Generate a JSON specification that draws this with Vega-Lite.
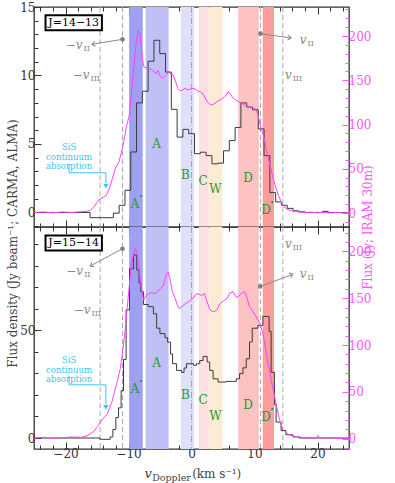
{
 "$schema": "https://vega.github.io/schema/vega-lite/v6.json",
 "padding": {"left": 6, "top": 0, "right": 2, "bottom": 0},
 "bounds": "flush",
 "spacing": 0,
 "config": {
  "font": "DejaVu Serif",
  "view": {"stroke": "#333", "strokeWidth": 1.3},
  "axis": {"grid": false, "domain": false, "labelFont": "DejaVu Serif", "labelFontSize": 12, "labelColor": "#333", "tickColor": "#333", "titleFont": "DejaVu Serif", "titleFontSize": 12, "titleFontWeight": "normal", "titleColor": "#444", "labelPadding": 6, "labelFlush": false, "labelOverlap": false},
  "text": {"font": "DejaVu Serif"}
 },
 "datasets": {
  "bands": [{"b":"A*","v0":-9.9,"v1":-7.74},{"b":"A","v0":-7.27,"v1":-3.63},{"b":"B","v0":-1.7,"v1":0.4},{"b":"C","v0":1.15,"v1":2.75},{"b":"W","v0":2.8,"v1":4.9},{"b":"D","v0":7.4,"v1":10.7},{"b":"D*","v0":11.3,"v1":13.1}],
  "vlines": [{"v":-14.5,"k":"dash"},{"v":-10.95,"k":"dash"},{"v":10.95,"k":"dash"},{"v":14.5,"k":"dash"},{"v":0,"k":"dd"}],
  "k1": [{"v":-25,"f":0},{"v":-16.1,"f":-0.38},{"v":-12.4,"f":-0.05},{"v":-11.48,"f":0.52},{"v":-10.56,"f":1.62},{"v":-9.64,"f":4.42},{"v":-8.72,"f":8.0},{"v":-7.8,"f":8.85},{"v":-6.88,"f":11.04},{"v":-5.96,"f":12.57},{"v":-5.04,"f":11.6},{"v":-4.12,"f":10.25},{"v":-3.2,"f":7.53},{"v":-2.28,"f":5.5},{"v":-1.36,"f":6.07},{"v":-0.44,"f":5.75},{"v":0.48,"f":4.29},{"v":1.4,"f":4.4},{"v":2.32,"f":4.15},{"v":3.24,"f":3.55},{"v":4.16,"f":3.6},{"v":5.08,"f":4.5},{"v":6.0,"f":5.25},{"v":6.92,"f":6.2},{"v":7.84,"f":8.0},{"v":8.76,"f":7.7},{"v":9.68,"f":7.5},{"v":10.6,"f":6.1},{"v":11.52,"f":4.15},{"v":12.44,"f":1.45},{"v":13.36,"f":0.77},{"v":14.28,"f":0.53},{"v":15.2,"f":0.3},{"v":16.12,"f":0.12},{"v":17.04,"f":0.05},{"v":18.0,"f":0.0},{"v":20.8,"f":0.08},{"v":21.7,"f":0.0},{"v":25,"f":0}],
  "k2": [{"v":-25,"f":0},{"v":-14.53,"f":-0.6},{"v":-12.91,"f":0.5},{"v":-12.48,"f":4.0},{"v":-12.01,"f":9.5},{"v":-11.58,"f":14},{"v":-11.17,"f":22},{"v":-10.79,"f":36.5},{"v":-10.38,"f":59.5},{"v":-9.84,"f":78.6},{"v":-9.21,"f":85},{"v":-8.69,"f":78},{"v":-8.33,"f":72},{"v":-8.06,"f":68},{"v":-7.63,"f":62},{"v":-6.85,"f":61},{"v":-6.05,"f":57.7},{"v":-5.53,"f":51},{"v":-5.01,"f":48.5},{"v":-4.22,"f":46.6},{"v":-3.79,"f":44.5},{"v":-3.32,"f":39},{"v":-3.0,"f":34.5},{"v":-2.37,"f":31.4},{"v":-1.58,"f":30.5},{"v":-1.18,"f":32.5},{"v":-0.79,"f":34.5},{"v":0.32,"f":33.8},{"v":0.79,"f":34.5},{"v":1.31,"f":36},{"v":1.85,"f":37.9},{"v":2.48,"f":35.3},{"v":2.89,"f":31.4},{"v":3.43,"f":27.5},{"v":4.22,"f":26},{"v":5.5,"f":26.3},{"v":7.11,"f":27.5},{"v":7.63,"f":29.9},{"v":8.17,"f":32.6},{"v":8.69,"f":36.8},{"v":9.21,"f":44.6},{"v":9.64,"f":51},{"v":10.54,"f":52.3},{"v":11.33,"f":56.5},{"v":12.32,"f":49.5},{"v":12.64,"f":30.5},{"v":13.16,"f":15.5},{"v":13.43,"f":7.4},{"v":14.22,"f":3.5},{"v":14.99,"f":1.5},{"v":16.11,"f":0.5},{"v":17.06,"f":0},{"v":25,"f":0}],
  "m1": [{"v":-25,"f":0.5},{"v":-23.5,"f":1.2},{"v":-22,"f":0.3},{"v":-20.5,"f":1.2},{"v":-19,"f":0.6},{"v":-17.5,"f":1.5},{"v":-16.6,"f":2},{"v":-16.1,"f":3},{"v":-15.5,"f":7},{"v":-15.0,"f":12},{"v":-14.5,"f":16},{"v":-14.0,"f":18},{"v":-13.5,"f":20},{"v":-13.1,"f":27},{"v":-12.6,"f":38},{"v":-12.1,"f":50},{"v":-11.5,"f":58},{"v":-10.9,"f":75},{"v":-10.4,"f":95},{"v":-9.9,"f":110},{"v":-9.6,"f":130},{"v":-9.3,"f":155},{"v":-9.05,"f":172},{"v":-8.75,"f":195},{"v":-8.45,"f":206},{"v":-8.2,"f":203},{"v":-8.0,"f":189},{"v":-7.8,"f":174},{"v":-7.55,"f":165},{"v":-7.2,"f":164},{"v":-6.8,"f":162},{"v":-6.4,"f":163},{"v":-6.0,"f":160},{"v":-5.6,"f":158},{"v":-5.3,"f":161},{"v":-5.0,"f":155},{"v":-4.6,"f":152},{"v":-4.3,"f":154},{"v":-3.9,"f":157},{"v":-3.6,"f":160},{"v":-3.3,"f":157},{"v":-2.9,"f":156},{"v":-2.5,"f":148},{"v":-2.2,"f":141},{"v":-1.8,"f":138},{"v":-1.4,"f":139},{"v":-1.0,"f":141},{"v":-0.6,"f":139},{"v":-0.2,"f":140},{"v":0.2,"f":141},{"v":0.6,"f":140},{"v":1.0,"f":138},{"v":1.4,"f":137},{"v":1.9,"f":134},{"v":2.3,"f":128},{"v":2.7,"f":124},{"v":3.1,"f":122},{"v":3.5,"f":123},{"v":3.9,"f":125},{"v":4.3,"f":127},{"v":4.8,"f":129},{"v":5.2,"f":131},{"v":5.5,"f":133},{"v":5.8,"f":137},{"v":6.2,"f":134},{"v":6.6,"f":130},{"v":7.0,"f":128},{"v":7.4,"f":126},{"v":7.9,"f":124},{"v":8.4,"f":122},{"v":8.9,"f":121},{"v":9.3,"f":120},{"v":9.7,"f":119},{"v":10.1,"f":118},{"v":10.5,"f":112},{"v":11.0,"f":97},{"v":11.4,"f":88},{"v":11.85,"f":73},{"v":12.25,"f":60},{"v":12.64,"f":49},{"v":13.0,"f":38},{"v":13.43,"f":28},{"v":13.8,"f":20},{"v":14.2,"f":13},{"v":14.7,"f":7},{"v":15.3,"f":3.8},{"v":16.0,"f":2.2},{"v":17.0,"f":1.2},{"v":18.0,"f":0.6},{"v":19.0,"f":0.9},{"v":20.0,"f":0.3},{"v":21.0,"f":0.8},{"v":22.0,"f":0.1},{"v":23.0,"f":0.6},{"v":24.0,"f":0.2},{"v":25,"f":0.3}],
  "m2": [{"v":-25,"f":0.5},{"v":-23.5,"f":1.5},{"v":-22,"f":0.3},{"v":-20.5,"f":1.2},{"v":-19,"f":1.8},{"v":-17.5,"f":1.5},{"v":-16.6,"f":3},{"v":-15.5,"f":7.8},{"v":-14.9,"f":13},{"v":-14.2,"f":20},{"v":-13.4,"f":26},{"v":-12.6,"f":40},{"v":-11.9,"f":58},{"v":-11.3,"f":75},{"v":-10.7,"f":105},{"v":-10.2,"f":140},{"v":-9.6,"f":183},{"v":-9.2,"f":197},{"v":-8.9,"f":203},{"v":-8.6,"f":196},{"v":-8.2,"f":175},{"v":-7.9,"f":158},{"v":-7.6,"f":148},{"v":-7.1,"f":154},{"v":-6.3,"f":156},{"v":-5.8,"f":155},{"v":-5.3,"f":158},{"v":-4.5,"f":163},{"v":-4.2,"f":170},{"v":-3.95,"f":176},{"v":-3.7,"f":178},{"v":-3.4,"f":170},{"v":-3.1,"f":158},{"v":-2.6,"f":150},{"v":-2.2,"f":142},{"v":-1.9,"f":139},{"v":-1.2,"f":143},{"v":-0.5,"f":146},{"v":0,"f":149},{"v":0.4,"f":151},{"v":0.79,"f":155},{"v":1.2,"f":154},{"v":1.58,"f":153},{"v":2.05,"f":155},{"v":2.37,"f":148},{"v":2.89,"f":138},{"v":3.3,"f":136},{"v":3.68,"f":136},{"v":4.1,"f":138},{"v":4.47,"f":144},{"v":5.26,"f":148},{"v":5.7,"f":150},{"v":6.05,"f":155},{"v":6.59,"f":157},{"v":7.11,"f":151},{"v":7.5,"f":152},{"v":7.9,"f":155},{"v":8.42,"f":157},{"v":8.69,"f":153},{"v":9.21,"f":141},{"v":9.74,"f":136},{"v":10.27,"f":130},{"v":10.79,"f":124},{"v":11.33,"f":113},{"v":11.85,"f":92},{"v":12.37,"f":73},{"v":12.91,"f":54},{"v":13.43,"f":37},{"v":13.95,"f":21},{"v":14.5,"f":10},{"v":15.28,"f":5},{"v":16.0,"f":3},{"v":16.86,"f":2},{"v":18.0,"f":1},{"v":19.0,"f":0.6},{"v":19.75,"f":0.5},{"v":20.06,"f":3.5},{"v":20.38,"f":0.5},{"v":21.0,"f":1},{"v":22.1,"f":0.8},{"v":23.5,"f":0.2},{"v":25,"f":0.3}],
  "greens": [{"p":"t","t":"A","v":-5.53,"y":5.02,"star":false},{"p":"t","t":"B","v":-0.95,"y":2.74,"star":false},{"p":"t","t":"A","v":-9.0,"y":0.64,"star":true},{"p":"t","t":"C","v":1.85,"y":2.3,"star":false},{"p":"t","t":"W","v":3.79,"y":1.72,"star":false},{"p":"t","t":"D","v":8.96,"y":2.54,"star":false},{"p":"t","t":"D","v":11.85,"y":0.18,"star":true},
             {"p":"b","t":"A","v":-5.53,"y":35,"star":false},{"p":"b","t":"A","v":-9.0,"y":22.9,"star":true},{"p":"b","t":"B","v":-0.95,"y":20.1,"star":false},{"p":"b","t":"C","v":1.85,"y":17.5,"star":false},{"p":"b","t":"W","v":3.79,"y":10.2,"star":false},{"p":"b","t":"D","v":8.96,"y":15.2,"star":false},{"p":"b","t":"D","v":11.85,"y":9.75,"star":true}],
  "vlabels": [{"p":"t","m":"−v","s":"II","v":-17.3,"y":12.26},{"p":"t","m":"−v","s":"III","v":-16.19,"y":10.07},{"p":"t","m":"v","s":"II","v":18.25,"y":12.6},{"p":"t","m":"v","s":"III","v":15.9,"y":10.04},
              {"p":"b","m":"−v","s":"II","v":-17.2,"y":77.4},{"p":"b","m":"−v","s":"III","v":-16.03,"y":59.3},{"p":"b","m":"v","s":"II","v":18.25,"y":76.3},{"p":"b","m":"v","s":"III","v":15.9,"y":90.2}],
  "arrows": [{"p":"t","s":"L","v0":-10.95,"y0":12.64,"v1":-15.8,"y1":12.28},{"p":"t","s":"R","v0":10.95,"y0":13.05,"v1":15.8,"y1":12.74},
             {"p":"b","s":"L","v0":-10.95,"y0":87.9,"v1":-16.07,"y1":79.85},{"p":"b","s":"R","v0":10.9,"y0":70.4,"v1":16.07,"y1":76.0}],
  "sis": [{"p":"t","v":-19.43,"y":4.78},{"p":"b","v":-19.43,"y":36.1}],
  "bracket": [{"p":"t","o":1,"v":-19.43,"y":3.56},{"p":"t","o":2,"v":-19.43,"y":2.9},{"p":"t","o":3,"v":-13.59,"y":2.9},{"p":"t","o":4,"v":-13.59,"y":2.15},
              {"p":"b","o":1,"v":-19.43,"y":29.1},{"p":"b","o":2,"v":-19.43,"y":24.7},{"p":"b","o":3,"v":-13.59,"y":24.7},{"p":"b","o":4,"v":-13.59,"y":15.6}],
  "heads": [{"p":"t","v":-13.59,"y":1.93},{"p":"b","v":-13.59,"y":14.2}],
  "jbox": [{"p":"t","t":"J=14−13","v0":-23.17,"v1":-14.22,"y0":14.39,"y1":13.3,"vc":-18.7,"yc":13.85},{"p":"b","t":"J=15−14","v0":-23.17,"v1":-14.22,"y0":94.1,"y1":87.1,"vc":-18.7,"yc":90.6}],
  "xtitle": [{"r":"v","t":"v","v":-6.87,"y":-16.6},{"r":"sub","t":"Doppler","v":-6.24,"y":-18.4},{"r":"unit","t":"(km s⁻¹)","v":0.1,"y":-16.6}]
 },
 "vconcat": [
  {
   "width": 315, "height": 220,
   "layer": [
    {"data": {"name": "bands"}, "mark": {"type": "rect"},
     "encoding": {
      "x": {"field": "v0", "type": "quantitative", "scale": {"domain": [-25, 25], "nice": false, "zero": false}, "axis": null},
      "x2": {"field": "v1"},
      "color": {"field": "b", "type": "nominal", "legend": null, "scale": {"domain": ["A*","A","B","C","W","D","D*"], "range": ["#a0a0f3","#c0c0f6","#e0e0fa","#fde0e0","#fdebd3","#fdc3c3","#fd9d9d"]}}
     }},
    {"data": {"name": "vlines"}, "transform": [{"filter": "datum.k == 'dash'"}], "mark": {"type": "rule", "strokeDash": [5, 3], "color": "#aaaaaa", "strokeWidth": 1},
     "encoding": {"x": {"field": "v", "type": "quantitative", "axis": null}}},
    {"data": {"name": "vlines"}, "transform": [{"filter": "datum.k == 'dd'"}], "mark": {"type": "rule", "strokeDash": [6, 2, 1, 2], "color": "#a0a0c8", "strokeWidth": 1},
     "encoding": {"x": {"field": "v", "type": "quantitative", "axis": null}}},
    {"data": {"name": "k1"}, "mark": {"type": "line", "interpolate": "step-after", "color": "#3a3a3a", "strokeWidth": 1},
     "encoding": {"x": {"field": "v", "type": "quantitative",
            "axis": {"orient": "bottom", "values": [-24,-22,-20,-18,-16,-14,-12,-10,-8,-6,-4,-2,0,2,4,6,8,10,12,14,16,18,20,22,24], "labels": false, "title": null, "tickSize": {"condition": {"test": "datum.value % 10 === 0", "value": -7}, "value": -4}}},
      "y": {"field": "f", "type": "quantitative", "scale": {"domain": [-1.06, 15], "nice": false, "zero": false},
            "axis": {"orient": "left", "values": [-1,0,1,2,3,4,5,6,7,8,9,10,11,12,13,14,15], "labelExpr": "datum.value % 5 === 0 ? datum.label : ''", "tickSize": {"condition": {"test": "datum.value % 5 === 0", "value": -7}, "value": -4}, "title": "Flux density (Jy beam⁻¹; CARMA, ALMA)", "titleY": 236, "titlePadding": 0}}}},
    {"data": {"name": "jbox"}, "transform": [{"filter": "datum.p == 't'"}], "mark": {"type": "rect", "fill": "white", "stroke": "black", "strokeWidth": 2},
     "encoding": {"x": {"field": "v0", "type": "quantitative", "axis": null}, "x2": {"field": "v1"}, "y": {"field": "y0", "type": "quantitative", "scale": {"domain": [-1.06, 15], "nice": false, "zero": false}, "axis": null}, "y2": {"field": "y1"}}},
    {"data": {"name": "jbox"}, "transform": [{"filter": "datum.p == 't'"}], "mark": {"type": "text", "fontSize": 11, "color": "black"},
     "encoding": {"x": {"field": "vc", "type": "quantitative", "axis": null}, "y": {"field": "yc", "type": "quantitative", "scale": {"domain": [-1.06, 15], "nice": false, "zero": false}, "axis": null}, "text": {"field": "t"}}},
    {"data": {"name": "greens"}, "transform": [{"filter": "datum.p == 't'"}], "mark": {"type": "text", "fontSize": 12, "color": "#2a9a2a"},
     "encoding": {"x": {"field": "v", "type": "quantitative", "axis": null}, "y": {"field": "y", "type": "quantitative", "scale": {"domain": [-1.06, 15], "nice": false, "zero": false}, "axis": null}, "text": {"field": "t"}}},
    {"data": {"name": "greens"}, "transform": [{"filter": "datum.p == 't' && datum.star"}], "mark": {"type": "text", "fontSize": 8, "color": "#2a9a2a", "text": "•", "dx": 6, "dy": -7},
     "encoding": {"x": {"field": "v", "type": "quantitative", "axis": null}, "y": {"field": "y", "type": "quantitative", "scale": {"domain": [-1.06, 15], "nice": false, "zero": false}, "axis": null}}},
    {"data": {"name": "vlabels"}, "transform": [{"filter": "datum.p == 't'"}], "mark": {"type": "text", "fontSize": 12, "fontStyle": "italic", "color": "#8a8a8a", "align": "right"},
     "encoding": {"x": {"field": "v", "type": "quantitative", "axis": null}, "y": {"field": "y", "type": "quantitative", "scale": {"domain": [-1.06, 15], "nice": false, "zero": false}, "axis": null}, "text": {"field": "m"}}},
    {"data": {"name": "vlabels"}, "transform": [{"filter": "datum.p == 't'"}], "mark": {"type": "text", "fontSize": 8, "color": "#8a8a8a", "align": "left", "dx": 1, "dy": 4},
     "encoding": {"x": {"field": "v", "type": "quantitative", "axis": null}, "y": {"field": "y", "type": "quantitative", "scale": {"domain": [-1.06, 15], "nice": false, "zero": false}, "axis": null}, "text": {"field": "s"}}},
    {"data": {"name": "arrows"}, "transform": [{"filter": "datum.p == 't'"}], "mark": {"type": "rule", "color": "#8a8a8a", "strokeWidth": 1},
     "encoding": {"x": {"field": "v0", "type": "quantitative", "axis": null}, "x2": {"field": "v1"}, "y": {"field": "y0", "type": "quantitative", "scale": {"domain": [-1.06, 15], "nice": false, "zero": false}, "axis": null}, "y2": {"field": "y1"}}},
    {"data": {"name": "arrows"}, "transform": [{"filter": "datum.p == 't'"}], "mark": {"type": "point", "filled": true, "size": 22, "color": "#808080", "opacity": 1},
     "encoding": {"x": {"field": "v0", "type": "quantitative", "axis": null}, "y": {"field": "y0", "type": "quantitative", "scale": {"domain": [-1.06, 15], "nice": false, "zero": false}, "axis": null}}},
    {"data": {"name": "arrows"}, "transform": [{"filter": "datum.p == 't' && datum.s == 'L'"}], "mark": {"type": "point", "shape": "M-1,-0.8L0,0L-1,0.8", "filled": false, "size": 40, "color": "#808080", "strokeWidth": 1, "angle": 171, "opacity": 1},
     "encoding": {"x": {"field": "v1", "type": "quantitative", "axis": null}, "y": {"field": "y1", "type": "quantitative", "scale": {"domain": [-1.06, 15], "nice": false, "zero": false}, "axis": null}}},
    {"data": {"name": "arrows"}, "transform": [{"filter": "datum.p == 't' && datum.s == 'R'"}], "mark": {"type": "point", "shape": "M-1,-0.8L0,0L-1,0.8", "filled": false, "size": 40, "color": "#808080", "strokeWidth": 1, "angle": 8, "opacity": 1},
     "encoding": {"x": {"field": "v1", "type": "quantitative", "axis": null}, "y": {"field": "y1", "type": "quantitative", "scale": {"domain": [-1.06, 15], "nice": false, "zero": false}, "axis": null}}},
    {"data": {"name": "sis"}, "transform": [{"filter": "datum.p == 't'"}], "mark": {"type": "text", "text": "SiS\ncontinuum\nabsorption", "lineBreak": "\n", "lineHeight": 9.5, "fontSize": 8.5, "color": "#3cc4f2"},
     "encoding": {"x": {"field": "v", "type": "quantitative", "axis": null}, "y": {"field": "y", "type": "quantitative", "scale": {"domain": [-1.06, 15], "nice": false, "zero": false}, "axis": null}}},
    {"data": {"name": "bracket"}, "transform": [{"filter": "datum.p == 't'"}], "mark": {"type": "line", "color": "#3cc4f2", "strokeWidth": 1},
     "encoding": {"x": {"field": "v", "type": "quantitative", "axis": null}, "y": {"field": "y", "type": "quantitative", "scale": {"domain": [-1.06, 15], "nice": false, "zero": false}, "axis": null}, "order": {"field": "o"}}},
    {"data": {"name": "heads"}, "transform": [{"filter": "datum.p == 't'"}], "mark": {"type": "point", "shape": "triangle-down", "filled": true, "size": 30, "color": "#3cc4f2", "opacity": 1},
     "encoding": {"x": {"field": "v", "type": "quantitative", "axis": null}, "y": {"field": "y", "type": "quantitative", "scale": {"domain": [-1.06, 15], "nice": false, "zero": false}, "axis": null}}},
    {"data": {"name": "m1"}, "mark": {"type": "line", "color": "#ff40ff", "strokeWidth": 1},
     "encoding": {"x": {"field": "v", "type": "quantitative",
       "axis": {"orient": "top", "values": [-24,-22,-20,-18,-16,-14,-12,-10,-8,-6,-4,-2,0,2,4,6,8,10,12,14,16,18,20,22,24], "labels": false, "title": null, "tickSize": {"condition": {"test": "datum.value % 10 === 0", "value": -7}, "value": -4}}},
      "y": {"field": "f", "type": "quantitative", "scale": {"domain": [-15.8, 232.8], "nice": false, "zero": false},
            "axis": {"orient": "right", "values": [-10,0,10,20,30,40,50,60,70,80,90,100,110,120,130,140,150,160,170,180,190,200,210,220,230], "labelExpr": "datum.value % 50 === 0 && datum.value >= 0 ? datum.label : ''", "tickSize": {"condition": {"test": "datum.value % 50 === 0", "value": -7}, "value": -4}, "tickColor": "#ff55ff", "labelColor": "#ff55ff", "title": "Flux (Jy; IRAM 30m)", "titleColor": "#ff55ff", "titleAngle": 270, "titleY": 220, "titlePadding": 4}}}}
   ],
   "resolve": {"scale": {"y": "independent"}, "axis": {"x": "independent"}}
  },
  {
   "width": 315, "height": 222,
   "layer": [
    {"data": {"name": "bands"}, "mark": {"type": "rect"},
     "encoding": {
      "x": {"field": "v0", "type": "quantitative", "scale": {"domain": [-25, 25], "nice": false, "zero": false}, "axis": null},
      "x2": {"field": "v1"},
      "color": {"field": "b", "type": "nominal", "legend": null, "scale": {"domain": ["A*","A","B","C","W","D","D*"], "range": ["#a0a0f3","#c0c0f6","#e0e0fa","#fde0e0","#fdebd3","#fdc3c3","#fd9d9d"]}}
     }},
    {"data": {"name": "vlines"}, "transform": [{"filter": "datum.k == 'dash'"}], "mark": {"type": "rule", "strokeDash": [5, 3], "color": "#aaaaaa", "strokeWidth": 1},
     "encoding": {"x": {"field": "v", "type": "quantitative", "axis": null}}},
    {"data": {"name": "vlines"}, "transform": [{"filter": "datum.k == 'dd'"}], "mark": {"type": "rule", "strokeDash": [6, 2, 1, 2], "color": "#a0a0c8", "strokeWidth": 1},
     "encoding": {"x": {"field": "v", "type": "quantitative", "axis": null}}},
    {"data": {"name": "k2"}, "mark": {"type": "line", "interpolate": "step-after", "color": "#3a3a3a", "strokeWidth": 1},
     "encoding": {"x": {"field": "v", "type": "quantitative",
            "axis": {"orient": "bottom", "values": [-24,-22,-20,-18,-16,-14,-12,-10,-8,-6,-4,-2,0,2,4,6,8,10,12,14,16,18,20,22,24], "labelExpr": "datum.value % 10 === 0 ? datum.label : ''", "title": null, "tickSize": {"condition": {"test": "datum.value % 10 === 0", "value": -7}, "value": -4}}},
      "y": {"field": "f", "type": "quantitative", "scale": {"domain": [-5.1, 98], "nice": false, "zero": false},
            "axis": {"orient": "left", "values": [0,10,20,30,40,50,60,70,80,90], "labelExpr": "datum.value % 50 === 0 ? datum.label : ''", "tickSize": {"condition": {"test": "datum.value % 50 === 0", "value": -7}, "value": -4}, "title": null}}}},
    {"data": {"name": "jbox"}, "transform": [{"filter": "datum.p == 'b'"}], "mark": {"type": "rect", "fill": "white", "stroke": "black", "strokeWidth": 2},
     "encoding": {"x": {"field": "v0", "type": "quantitative", "axis": null}, "x2": {"field": "v1"}, "y": {"field": "y0", "type": "quantitative", "scale": {"domain": [-5.1, 98], "nice": false, "zero": false}, "axis": null}, "y2": {"field": "y1"}}},
    {"data": {"name": "jbox"}, "transform": [{"filter": "datum.p == 'b'"}], "mark": {"type": "text", "fontSize": 11, "color": "black"},
     "encoding": {"x": {"field": "vc", "type": "quantitative", "axis": null}, "y": {"field": "yc", "type": "quantitative", "scale": {"domain": [-5.1, 98], "nice": false, "zero": false}, "axis": null}, "text": {"field": "t"}}},
    {"data": {"name": "greens"}, "transform": [{"filter": "datum.p == 'b'"}], "mark": {"type": "text", "fontSize": 12, "color": "#2a9a2a"},
     "encoding": {"x": {"field": "v", "type": "quantitative", "axis": null}, "y": {"field": "y", "type": "quantitative", "scale": {"domain": [-5.1, 98], "nice": false, "zero": false}, "axis": null}, "text": {"field": "t"}}},
    {"data": {"name": "greens"}, "transform": [{"filter": "datum.p == 'b' && datum.star"}], "mark": {"type": "text", "fontSize": 8, "color": "#2a9a2a", "text": "•", "dx": 6, "dy": -7},
     "encoding": {"x": {"field": "v", "type": "quantitative", "axis": null}, "y": {"field": "y", "type": "quantitative", "scale": {"domain": [-5.1, 98], "nice": false, "zero": false}, "axis": null}}},
    {"data": {"name": "vlabels"}, "transform": [{"filter": "datum.p == 'b'"}], "mark": {"type": "text", "fontSize": 12, "fontStyle": "italic", "color": "#8a8a8a", "align": "right"},
     "encoding": {"x": {"field": "v", "type": "quantitative", "axis": null}, "y": {"field": "y", "type": "quantitative", "scale": {"domain": [-5.1, 98], "nice": false, "zero": false}, "axis": null}, "text": {"field": "m"}}},
    {"data": {"name": "vlabels"}, "transform": [{"filter": "datum.p == 'b'"}], "mark": {"type": "text", "fontSize": 8, "color": "#8a8a8a", "align": "left", "dx": 1, "dy": 4},
     "encoding": {"x": {"field": "v", "type": "quantitative", "axis": null}, "y": {"field": "y", "type": "quantitative", "scale": {"domain": [-5.1, 98], "nice": false, "zero": false}, "axis": null}, "text": {"field": "s"}}},
    {"data": {"name": "arrows"}, "transform": [{"filter": "datum.p == 'b'"}], "mark": {"type": "rule", "color": "#8a8a8a", "strokeWidth": 1},
     "encoding": {"x": {"field": "v0", "type": "quantitative", "axis": null}, "x2": {"field": "v1"}, "y": {"field": "y0", "type": "quantitative", "scale": {"domain": [-5.1, 98], "nice": false, "zero": false}, "axis": null}, "y2": {"field": "y1"}}},
    {"data": {"name": "arrows"}, "transform": [{"filter": "datum.p == 'b'"}], "mark": {"type": "point", "filled": true, "size": 22, "color": "#808080", "opacity": 1},
     "encoding": {"x": {"field": "v0", "type": "quantitative", "axis": null}, "y": {"field": "y0", "type": "quantitative", "scale": {"domain": [-5.1, 98], "nice": false, "zero": false}, "axis": null}}},
    {"data": {"name": "arrows"}, "transform": [{"filter": "datum.p == 'b' && datum.s == 'L'"}], "mark": {"type": "point", "shape": "M-1,-0.8L0,0L-1,0.8", "filled": false, "size": 40, "color": "#808080", "strokeWidth": 1, "angle": 152, "opacity": 1},
     "encoding": {"x": {"field": "v1", "type": "quantitative", "axis": null}, "y": {"field": "y1", "type": "quantitative", "scale": {"domain": [-5.1, 98], "nice": false, "zero": false}, "axis": null}}},
    {"data": {"name": "arrows"}, "transform": [{"filter": "datum.p == 'b' && datum.s == 'R'"}], "mark": {"type": "point", "shape": "M-1,-0.8L0,0L-1,0.8", "filled": false, "size": 40, "color": "#808080", "strokeWidth": 1, "angle": 340, "opacity": 1},
     "encoding": {"x": {"field": "v1", "type": "quantitative", "axis": null}, "y": {"field": "y1", "type": "quantitative", "scale": {"domain": [-5.1, 98], "nice": false, "zero": false}, "axis": null}}},
    {"data": {"name": "sis"}, "transform": [{"filter": "datum.p == 'b'"}], "mark": {"type": "text", "text": "SiS\ncontinuum\nabsorption", "lineBreak": "\n", "lineHeight": 9.5, "fontSize": 8.5, "color": "#3cc4f2"},
     "encoding": {"x": {"field": "v", "type": "quantitative", "axis": null}, "y": {"field": "y", "type": "quantitative", "scale": {"domain": [-5.1, 98], "nice": false, "zero": false}, "axis": null}}},
    {"data": {"name": "bracket"}, "transform": [{"filter": "datum.p == 'b'"}], "mark": {"type": "line", "color": "#3cc4f2", "strokeWidth": 1},
     "encoding": {"x": {"field": "v", "type": "quantitative", "axis": null}, "y": {"field": "y", "type": "quantitative", "scale": {"domain": [-5.1, 98], "nice": false, "zero": false}, "axis": null}, "order": {"field": "o"}}},
    {"data": {"name": "heads"}, "transform": [{"filter": "datum.p == 'b'"}], "mark": {"type": "point", "shape": "triangle-down", "filled": true, "size": 30, "color": "#3cc4f2", "opacity": 1},
     "encoding": {"x": {"field": "v", "type": "quantitative", "axis": null}, "y": {"field": "y", "type": "quantitative", "scale": {"domain": [-5.1, 98], "nice": false, "zero": false}, "axis": null}}},
    {"data": {"name": "xtitle"}, "transform": [{"filter": "datum.r == 'v'"}], "mark": {"type": "text", "fontSize": 13, "fontStyle": "italic", "color": "#444"},
     "encoding": {"x": {"field": "v", "type": "quantitative", "axis": null}, "y": {"field": "y", "type": "quantitative", "scale": {"domain": [-5.1, 98], "nice": false, "zero": false}, "axis": null}, "text": {"field": "t"}}},
    {"data": {"name": "xtitle"}, "transform": [{"filter": "datum.r == 'sub'"}], "mark": {"type": "text", "fontSize": 9.5, "color": "#444", "align": "left"},
     "encoding": {"x": {"field": "v", "type": "quantitative", "axis": null}, "y": {"field": "y", "type": "quantitative", "scale": {"domain": [-5.1, 98], "nice": false, "zero": false}, "axis": null}, "text": {"field": "t"}}},
    {"data": {"name": "xtitle"}, "transform": [{"filter": "datum.r == 'unit'"}], "mark": {"type": "text", "fontSize": 12, "color": "#444", "align": "left"},
     "encoding": {"x": {"field": "v", "type": "quantitative", "axis": null}, "y": {"field": "y", "type": "quantitative", "scale": {"domain": [-5.1, 98], "nice": false, "zero": false}, "axis": null}, "text": {"field": "t"}}},
    {"data": {"name": "m2"}, "mark": {"type": "line", "color": "#ff40ff", "strokeWidth": 1},
     "encoding": {"x": {"field": "v", "type": "quantitative",
       "axis": {"orient": "top", "values": [-24,-22,-20,-18,-16,-14,-12,-10,-8,-6,-4,-2,0,2,4,6,8,10,12,14,16,18,20,22,24], "labels": false, "title": null, "tickSize": {"condition": {"test": "datum.value % 10 === 0", "value": -7}, "value": -4}}},
      "y": {"field": "f", "type": "quantitative", "scale": {"domain": [-11, 226], "nice": false, "zero": false},
            "axis": {"orient": "right", "values": [-10,0,10,20,30,40,50,60,70,80,90,100,110,120,130,140,150,160,170,180,190,200,210,220], "labelExpr": "datum.value % 50 === 0 && datum.value >= 0 ? datum.label : ''", "tickSize": {"condition": {"test": "datum.value % 50 === 0", "value": -7}, "value": -4}, "tickColor": "#ff55ff", "labelColor": "#ff55ff", "title": null}}}}
   ],
   "resolve": {"scale": {"y": "independent"}, "axis": {"x": "independent"}}
  }
 ]
}
